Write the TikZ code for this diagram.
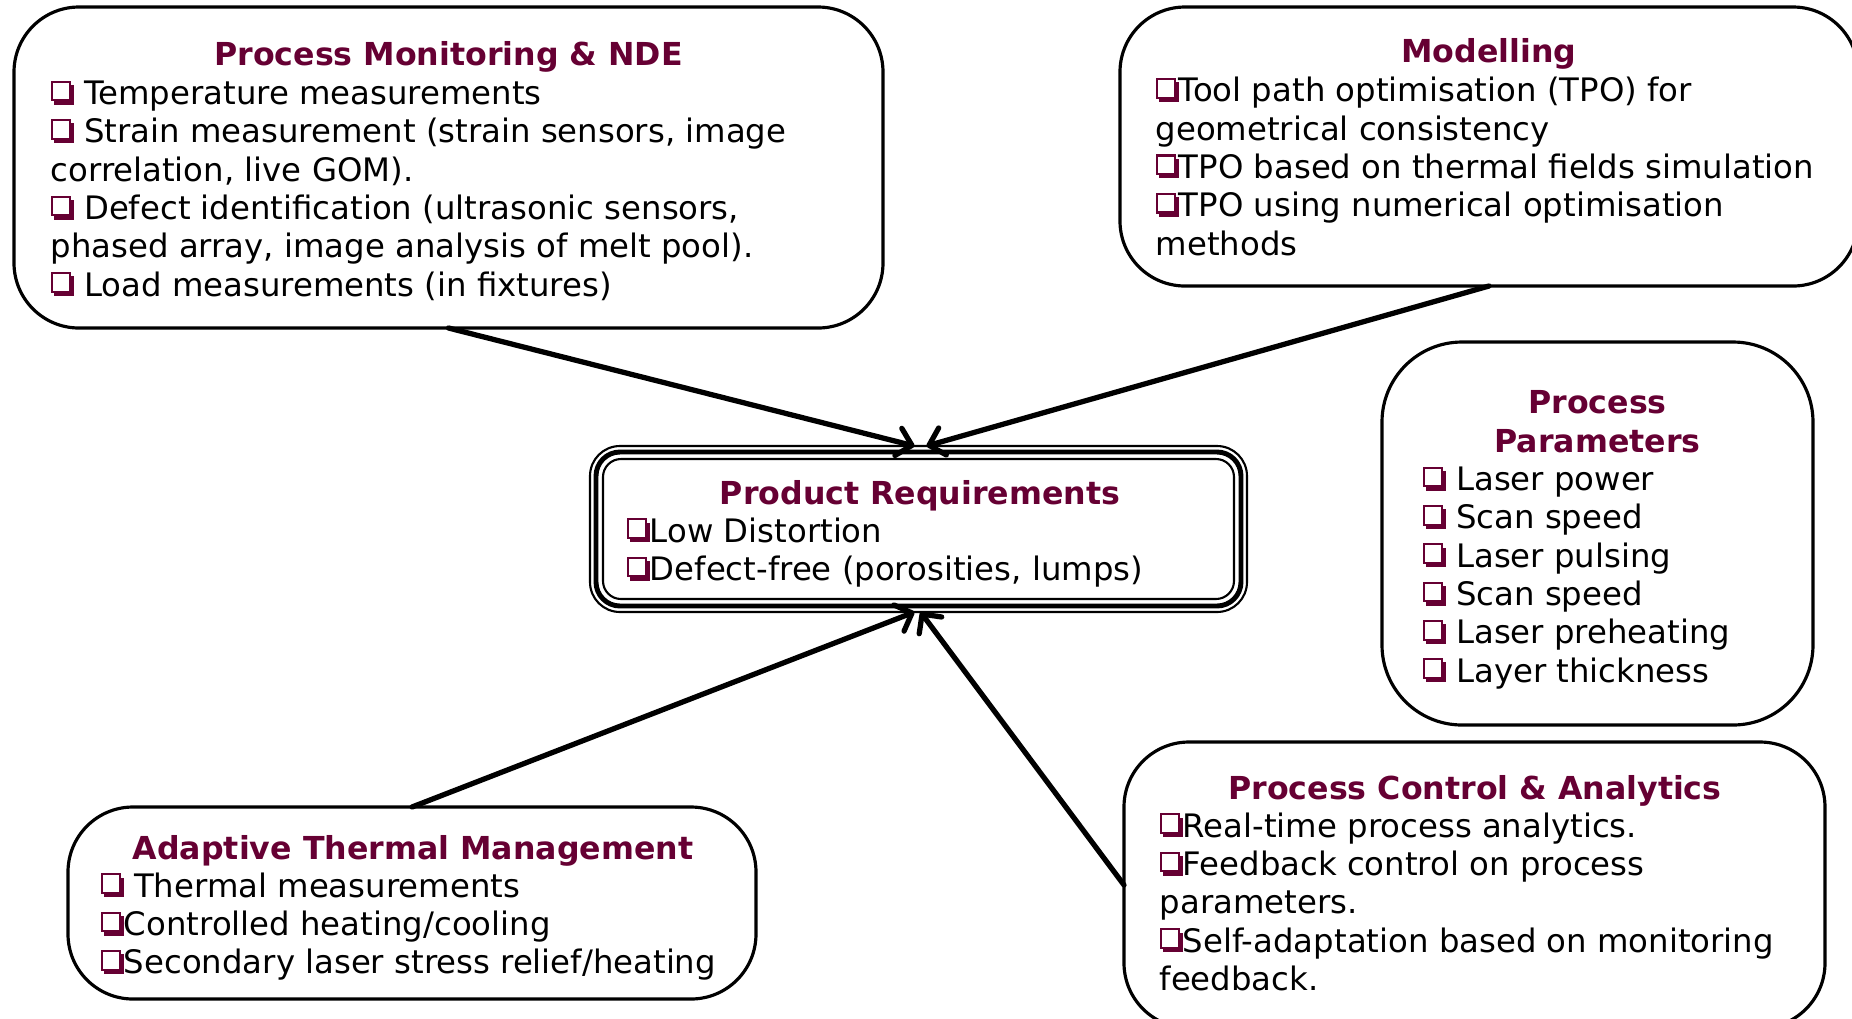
\documentclass[tikz,border=0pt]{standalone}
\usepackage{fontspec}
\setmainfont{DejaVu Sans}
\usetikzlibrary{arrows.meta,calc}

\definecolor{headred}{RGB}{102,0,51}

% shadowed tick box used in front of every item
\newsavebox\qglyph
\sbox\qglyph{\tikz{\fill[headred] (1.0pt,0) rectangle (6.6pt,5.6pt);
	\filldraw[draw=headred,fill=white,line width=0.6pt] (0.3pt,1.2pt) rectangle (5.6pt,6.5pt);}}
\newcommand\qb{\usebox\qglyph}

\begin{document}
\begin{tikzpicture}[
		panel/.style={draw, line width=0.9pt, rounded corners=0.65cm, inner sep=0pt, outer sep=0pt},
		head/.style={font=\fontsize{9}{10.9}\selectfont\bfseries, text=headred, inner sep=0pt, anchor=base},
		items/.style={font=\fontsize{9.2}{10.9}\selectfont, align=left, inner sep=0pt, anchor=north west},
		link/.style={-{Straight Barb[length=1.4mm,width=2.8mm,round]}, line width=1.5pt, line cap=round}
	]
			%%%%% START %%%%%
			
			\useasboundingbox (0,0) rectangle (18.52,-10.18);
			
			% the six boxes
			\node[panel, minimum width=8.69cm, minimum height=3.21cm] (pm) at (4.485,-1.675) {};
			\node[panel, minimum width=7.38cm, minimum height=2.79cm] (mod) at (14.89,-1.465) {};
			\node[panel, rounded corners=0.8cm, minimum width=4.31cm, minimum height=3.83cm] (pp) at (15.975,-5.335) {};
			\node[panel, rounded corners=0.3cm, line width=0.6pt, minimum width=6.57cm, minimum height=1.66cm] (pr) at (9.185,-5.29) {};
			\node[panel, minimum width=6.88cm, minimum height=1.92cm] (at) at (4.12,-9.03) {};
			\node[panel, minimum width=7.01cm, minimum height=2.86cm] (pc) at (14.745,-8.85) {};
			
			% inner rings of the centre box
			\draw[line width=1.4pt, rounded corners=0.24cm] ($(pr.south west)+(0.06,0.06)$) rectangle ($(pr.north east)-(0.06,0.06)$);
			\draw[line width=0.6pt, rounded corners=0.18cm] ($(pr.south west)+(0.13,0.13)$) rectangle ($(pr.north east)-(0.13,0.13)$);
			
			% headings
			\node[head] (pmhead) at (4.485,-0.65) {Process Monitoring \& NDE};
			\node[head] (modhead) at (14.89,-0.62) {Modelling};
			\node[head, align=center, anchor=north] (pphead) at (15.975,-3.90) {Process\\Parameters};
			\node[head] (prhead) at (9.20,-5.04) {Product Requirements};
			\node[head] (athead) at (4.13,-8.59) {Adaptive Thermal Management};
			\node[head] (pchead) at (14.75,-7.99) {Process Control \& Analytics};
			
			% item lists
			\node[items] (pmlist) at (0.50,-0.80) {\qb\ Temperature measurements\\
				\qb\ Strain measurement (strain sensors, image\\
				correlation, live GOM).\\
				\qb\ Defect identification (ultrasonic sensors,\\
				phased array, image analysis of melt pool).\\
				\qb\ Load measurements (in fixtures)};
			
			\node[items] (modlist) at (11.55,-0.765) {\qb Tool path optimisation (TPO) for\\
				geometrical consistency\\
				\qb TPO based on thermal fields simulation\\
				\qb TPO using numerical optimisation\\
				methods};
			
			\node[items] (pplist) at (14.22,-4.66) {\qb\ Laser power\\
				\qb\ Scan speed\\
				\qb\ Laser pulsing\\
				\qb\ Scan speed\\
				\qb\ Laser preheating\\
				\qb\ Layer thickness};
			
			\node[items] (prlist) at (6.26,-5.17) {\qb Low Distortion\\
				\qb Defect-free (porosities, lumps)};
			
			\node[items] (atlist) at (1.00,-8.72) {\qb\ Thermal measurements\\
				\qb Controlled heating/cooling\\
				\qb Secondary laser stress relief/heating};
			
			\node[items] (pclist) at (11.59,-8.12) {\qb Real-time process analytics.\\
				\qb Feedback control on process\\
				parameters.\\
				\qb Self-adaptation based on monitoring\\
				feedback.};
			
			% arrows into the centre box
			\draw[link] (pm.south) -- ([xshift=-0.04cm]pr.north);
			\draw[link] (mod.south) -- ([xshift=0.08cm]pr.north);
			\draw[link] (at.north) -- ([xshift=-0.04cm]pr.south);
			\draw[link] (pc.west) -- ([xshift=0.02cm]pr.south);
			
			%%%%% END %%%%%
\end{tikzpicture}
\end{document}
